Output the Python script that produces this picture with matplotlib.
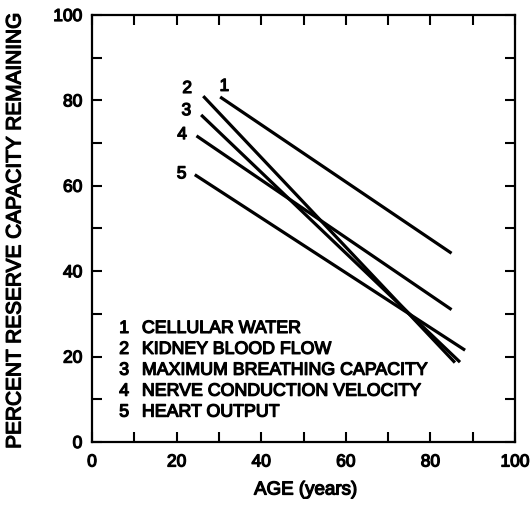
import matplotlib.pyplot as plt
import matplotlib.patheffects as pe
from matplotlib.ticker import MultipleLocator

plt.rcParams['font.family'] = ['Liberation Sans', 'DejaVu Sans']

# each line: start and end point (age, percent)
line_ids = ["1", "2", "3", "4", "5"]
age_start = [30.3, 26.3, 25.8, 24.7, 24.3]
age_end = [85, 85.8, 87, 85, 88.2]
pct_start = [80.8, 81, 76.6, 71.7, 62.6]
pct_end = [44.2, 18.6, 18.7, 31, 21.5]

# where the number tags sit
tag_x = [31.3, 22.5, 22.3, 21.3, 21.2]
tag_y = [83.3, 82.8, 77.6, 72.0, 62.8]

legend_names = ["CELLULAR WATER", "KIDNEY BLOOD FLOW",
                "MAXIMUM BREATHING CAPACITY",
                "NERVE CONDUCTION VELOCITY", "HEART OUTPUT"]

# fake a bold weight (no bold face installed for Liberation Sans)
BOLD = [pe.withStroke(linewidth=0.9, foreground='black')]

fig = plt.figure(figsize=(5.30, 5.05), dpi=100)
ax = fig.add_axes([92/530, 1-442/505, (515-92)/530, (442-15)/505])

for i in range(len(line_ids)):
    ax.plot([age_start[i], age_end[i]], [pct_start[i], pct_end[i]],
            color='black', lw=2.3, solid_capstyle='butt')
    ax.text(tag_x[i], tag_y[i], line_ids[i], fontsize=12.5,
            ha='center', va='center', path_effects=BOLD)

for i, name in enumerate(legend_names):
    y = 26.6 - i * 4.9
    ax.text(7.6, y, line_ids[i], fontsize=12.8,
            ha='center', va='center', path_effects=BOLD)
    ax.text(11.8, y, name, fontsize=12.8,
            ha='left', va='center', path_effects=BOLD)

ax.set_xlim(0, 100)
ax.set_ylim(0, 100)
ax.xaxis.set_major_locator(MultipleLocator(20))
ax.yaxis.set_major_locator(MultipleLocator(20))
ax.xaxis.set_minor_locator(MultipleLocator(10))
ax.yaxis.set_minor_locator(MultipleLocator(10))
ax.tick_params(which='both', direction='in', length=7.5, width=1.5,
               top=True, right=True, labelsize=12.5)
ax.tick_params(axis='x', pad=9)
ax.tick_params(axis='y', pad=7)
for lab in ax.get_xticklabels() + ax.get_yticklabels():
    lab.set_path_effects(BOLD)
for sp in ax.spines.values():
    sp.set_linewidth(1.6)

# axis titles placed by hand, as in the scan
fig.text(ax.get_position().x0 + ax.get_position().width * 0.505, 1-490/505,
         "AGE (years)", fontsize=13.5, ha='center', va='center',
         path_effects=BOLD)
fig.text(15/530, 1-230/505, "PERCENT RESERVE CAPACITY REMAINING",
         rotation=90, fontsize=15.0, ha='center', va='center',
         path_effects=BOLD)

fig.savefig("out.png", dpi=100)
